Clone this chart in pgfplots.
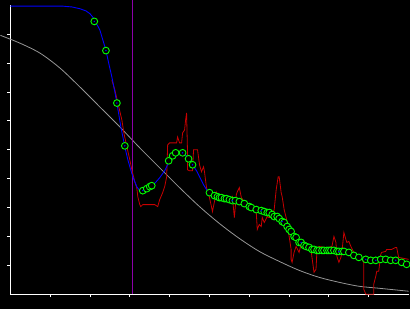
\documentclass[border=0pt]{standalone}
\usepackage{pgfplots}
\pgfplotsset{compat=1.18}
\usetikzlibrary{backgrounds}
\definecolor{cred}{RGB}{200,0,0}
\definecolor{cblue}{RGB}{0,0,255}
\definecolor{cgray}{RGB}{150,150,150}
\definecolor{cpurple}{RGB}{140,0,170}
\definecolor{cgreen}{RGB}{0,255,0}
\begin{document}
\begin{tikzpicture}[show background rectangle, inner frame sep=0pt, background rectangle/.style={fill=black, draw=none}]
\begin{axis}[
  x=1bp, y=1bp,
  xmin=10, xmax=410, ymin=0, ymax=290,
  axis x line=bottom, axis y line=left,
  axis line style={white, -, line width=1bp},
  xtick={50,90,...,370}, ytick={29,58,...,261},
  xticklabels={}, yticklabels={},
  ticklabel style={inner sep=0pt, outer sep=0pt},
  tick align=outside, major tick length=3bp,
  tick style={white, line width=1bp},
  clip=false,
]
\path (axis cs:0,-15) rectangle (axis cs:410,295);
% gray curve
\addplot[cgray, line width=0.8bp, smooth] coordinates {
(0,260) (20,252) (40,242) (60,227) (80,208) (100,188) (120,168) (140,147) (160,127) (180,107) (200,88) (220,71) (240,56) (260,43) (280,33) (300,24) (320,17) (340,12) (360,8) (380,6) (410,3)
};
% purple vertical line
\addplot[cpurple, line width=1bp] coordinates {(132.3,0) (132.3,295)};
% red noisy line
\addplot[cred, line width=0.8bp] coordinates {
(112,215) (115,205) (118,192) (122,175) (124,162) (127,148) (130,135) (132,125) (135,113) (137,107) (138,98) (140,90) (141,88) (143,90) (145,90) (150,90) (155,90) (158,88) (160,95) (163,102) (165,108) (167,118) (168,150) (170,152) (175,152) (177,152) (178,158) (180,152) (182,152) (183,162) (185,165) (186,175) (187,182) (188,140) (188,125) (190,124) (193,124) (194,145) (198,145) (200,130) (202,123) (204,128) (205,123) (207,107) (208,103) (210,97) (212,88) (213,83) (215,93) (217,102) (218,97) (220,99) (223,100) (225,97) (228,93) (230,93) (233,98) (235,77) (237,100) (238,103) (240,107) (242,97) (245,93) (247,93) (250,88) (253,86) (257,82) (258,65) (260,70) (262,68) (263,77) (265,72) (268,78) (270,77) (272,77) (275,85) (277,105) (279,118) (280,118) (282,102) (283,98) (285,85) (287,77) (288,72) (290,58) (292,45) (292,35) (293,32) (295,42) (297,48) (300,42) (302,50) (303,52) (307,47) (310,45) (312,44) (315,22) (317,25) (318,45) (320,48) (325,47) (330,47) (333,48) (335,58) (337,52) (338,38) (340,32) (342,37) (343,42) (345,62) (347,55) (348,52) (350,53) (352,48) (355,42) (358,38) (362,37) (365,32) (365,5) (367,0) (375,0) (375,10) (377,18) (378,23) (380,23) (382,40) (383,42) (387,43) (388,45) (393,45) (397,47) (398,47) (400,37) (405,36) (410,35)
};
% blue curve
\addplot[cblue, line width=0.9bp] coordinates {
(10,289.3) (50,289.3) (63,289.3) (72,288.5) (80,286.7) (86,284.5) (90,281.7) (93,278) (95,274) (98,269) (100,265) (103,255) (106,245) (109,231) (112,218) (115,203) (117,192) (119,180) (121,168) (123,158) (125,148) (128,135) (130,128) (133,118) (137,108) (140,104) (143,103) (146,104.5) (148,106) (153,109) (160,117) (165,124) (167,128) (170,135) (173,139) (177,140) (183,142) (187,139) (190,137) (193,130) (197,124) (200,118) (204,110) (207,105) (210,102) (215,99) (220,97) (225,96) (230,95) (233,94) (240,93) (245,91) (250,88) (257,85) (268,82) (273,80) (278,78) (283,75) (288,68) (292,63) (297,57) (302,52) (307,48) (313,45) (318,44) (323,44) (330,44) (335,44) (340,43) (345,43) (350,42) (355,39) (360,37) (367,35) (372,34) (377,34) (382,35) (387,35) (392,34) (397,34) (403,32) (408,30)
};
% green circles
\addplot[only marks, mark=*, mark size=3.4bp, mark options={draw=cgreen, fill=black, line width=0.9bp}] coordinates {
(94.3,274) (106,244.7) (117,192) (125,149) (143,104) (147,106) (150,108) (152,109) (169,134) (173,139) (176,142) (183,142) (189,136) (193,130) (210,102) (215,99) (218,98) (220,97) (222,97) (225,96) (227,96) (230,95) (233,94) (236,94) (240,93) (245,91) (250,88) (252,87) (257,85) (262,84) (265,83) (268,82) (270,82) (273,80) (275,78) (278,78) (280,76) (283,73) (285,72) (288,68) (290,65) (292,63) (295,58) (297,57) (300,52) (302,52) (305,49) (307,48) (310,47) (313,45) (315,45) (318,44) (320,44) (323,44) (325,44) (328,44) (330,44) (332,44) (335,44) (338,43) (340,43) (343,43) (345,43) (350,42) (355,39) (360,37) (367,35) (372,34) (377,34) (382,35) (387,35) (392,34) (397,34) (403,32) (408,30)
};
\addplot[only marks, mark=*, mark size=0.5bp, mark options={draw=cblue, fill=cblue}] coordinates {
(94.3,274) (106,244.7) (117,192) (125,149) (143,104) (183,142) (193,130) (233,94) (262,84) (283,73) (302,52) (340,43) (367,35) (377,34) (397,34)
};
\end{axis}
\end{tikzpicture}
\end{document}
